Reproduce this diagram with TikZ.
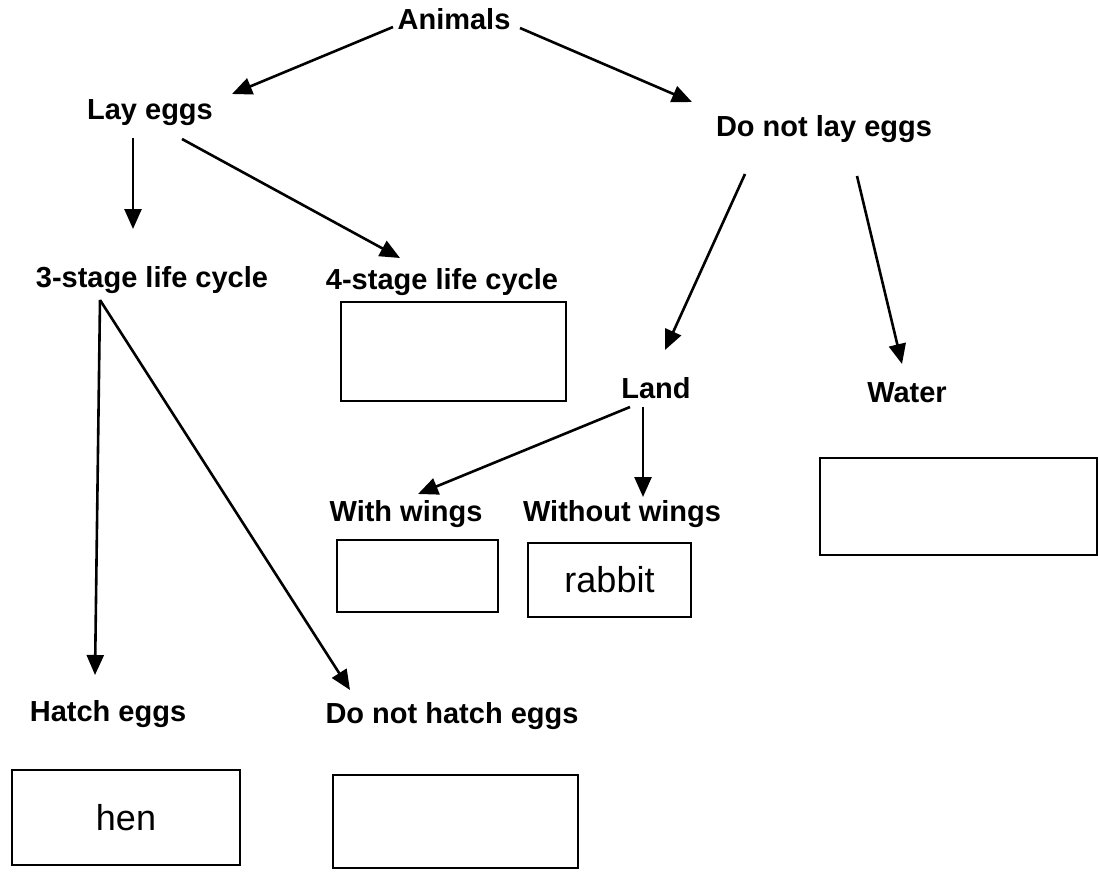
\documentclass[tikz,border=0pt]{standalone}
\usepackage{fontspec}
\setmainfont{Liberation Sans}
\usetikzlibrary{arrows.meta}
\begin{document}
\begin{tikzpicture}[x=1pt,y=-1pt,
 lbl/.style={font=\fontsize{29}{32}\selectfont\bfseries, inner sep=0pt},
 ans/.style={font=\fontsize{36}{40}\selectfont},
 blank/.style={draw, line width=2.2pt, inner sep=0pt},
 arr/.style={line width=2.6pt, -{Triangle[length=20pt,width=17pt]}}]
\useasboundingbox[fill=white] (0,0) rectangle (1099,872);
% labels
\node[lbl] (animals) at (454,19) {Animals};
\node[lbl] (lay) at (150,113) {Lay eggs};
\node[lbl] (dnl) at (824,129) {Do not lay eggs};
\node[lbl] (three) at (152,280) {3-stage life cycle};
\node[lbl] (four) at (442,282) {4-stage life cycle};
\node[lbl] (land) at (656,388) {Land};
\node[lbl] (water) at (907,393) {Water};
\node[lbl] (with) at (406,514) {With wings};
\node[lbl] (without) at (622,514) {Without wings};
\node[lbl] (hatch) at (108,714) {Hatch eggs};
\node[lbl] (nohatch) at (452,716) {Do not hatch eggs};
% boxes
\node[blank, minimum width=225pt, minimum height=99pt] (b4) at (453.5,351.5) {};
\node[blank, minimum width=277pt, minimum height=97pt] (bwater) at (958.5,506.5) {};
\node[blank, minimum width=161pt, minimum height=72pt] (bwith) at (417.5,576) {};
\node[blank, ans, minimum width=163pt, minimum height=74pt] (brabbit) at (609.5,580) {rabbit};
\node[blank, ans, minimum width=228pt, minimum height=95pt] (bhen) at (126,817.5) {hen};
\node[blank, minimum width=245pt, minimum height=93pt] (bnohatch) at (455.5,821.5) {};
% arrow end points
\coordinate (a1s) at (393,27); \coordinate (a1e) at (232,94);
\coordinate (a2s) at (520,28); \coordinate (a2e) at (692,102);
\coordinate (a3s) at (133,138); \coordinate (a3e) at (133,229);
\coordinate (a4s) at (182,139); \coordinate (a4e) at (400,258);
\coordinate (a5s) at (745,174); \coordinate (a5e) at (665,350);
\coordinate (a6s) at (857,176); \coordinate (a6e) at (902,364);
\coordinate (a7s) at (100,300); \coordinate (a7e) at (95,675);
\coordinate (a8e) at (350,690);
\coordinate (a9s) at (630,407); \coordinate (a9e) at (418,494);
\coordinate (a10s) at (643,407); \coordinate (a10e) at (643,497);
\draw[arr] (a1s) -- (a1e);
\draw[arr] (a2s) -- (a2e);
\draw[arr] (a3s) -- (a3e);
\draw[arr] (a4s) -- (a4e);
\draw[arr] (a5s) -- (a5e);
\draw[arr] (a6s) -- (a6e);
\draw[arr] (a7s) -- (a7e);
\draw[arr] (a7s) -- (a8e);
\draw[arr] (a9s) -- (a9e);
\draw[arr] (a10s) -- (a10e);
\end{tikzpicture}
\end{document}
